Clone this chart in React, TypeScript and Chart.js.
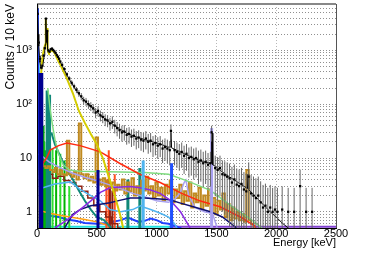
import React, { useEffect, useRef } from 'react';
import { Chart, registerables } from 'chart.js';
Chart.register(...registerables);

const FONT = "'Liberation Sans', Arial, sans-serif";
const xTickValues = [0, 500, 1000, 1500, 2000, 2500];
const yTickLabels: Record<string, string> = { '1': '1', '10': '10', '100': '10²', '1000': '10³' };

// measured spectrum (counts / 10 keV)
const dataE = [5,15,25,35,45,55,65,75,85,95,105,115,125,135,145,155,165,175,185,195,210,230,250,270,290,310,330,350,370,390,410,430,450,470,490,510,530,550,570,590,610,630,650,670,690,710,730,750,770,790,810,830,850,870,890,910,930,950,970,990,1010,1030,1050,1070,1090,1110,1120,1150,1170,1190,1210,1230,1250,1270,1290,1310,1330,1350,1370,1390,1410,1430,1450,1460,1490,1510,1530,1550,1570,1590,1610,1630,1650,1670,1690,1710,1730,1750,1770,1790,1810,1830,1850,1870,1890,1910,1930,1950,1970,1990,2010,2050,2100,2150,2200,2250,2300];
const dataV = [4800,1400,700,480,520,800,1100,3900,2300,1000,950,1050,1080,1020,960,900,820,760,700,620,540,450,360,300,250,215,185,160,140,118,112,100,92,84,70,75,62,58,52,50,44,47,40,36,33,30,31,27,28,25,26,23,24,22,21,23,20,21,18,19,17,18,15,16,15,14,32,14,13,12,13,11,12,10,10.5,9.5,10,8.5,9,8,8.5,7.5,8,30,6.5,6,6.5,5,4.8,4.5,4.2,3.5,4,3.2,3,3.3,2.6,2.4,4.5,2.2,2,1.8,2,1.5,1.2,1.3,1.0,1.2,1.0,1.1,1.0,1.1,1.0,1.0,3.0,1.0,1.0];
const eventWeight = 3.2;

// total model
const modelE = [0,5,10,15,20,25,30,40,50,60,65,70,73,75,77,80,83,85,87,90,95,100,110,120,130,140,150,160,180,200,225,250,275,300,325,350,375,400,450,500,550,600,650,700,750,800,850,900,950,1000,1050,1100,1115,1120,1125,1150,1200,1250,1300,1350,1400,1450,1455,1460,1465,1470,1500,1550,1600,1650,1700,1750,1760,1765,1770,1800,1850,1900,1950,2000,2050,2100,2150];
const modelV = [7000,4500,2000,1200,800,600,500,450,550,800,1000,1300,2000,3800,2000,1400,2000,2400,1500,1050,980,960,1000,1050,1050,1000,940,870,720,580,450,350,280,225,185,155,132,115,90,72,58,47,40,34,29,26,24,22,20.5,19,17.5,16,16,30,15.5,14.5,13,11.5,10.2,9.2,8.5,8,8,29,29,7.5,6.8,5.5,4.6,3.9,3.3,2.8,2.7,5,2.6,2.2,1.7,1.3,1.0,0.8,0.62,0.5,0.4];

// components
const yellowE = [20,30,40,50,60,70,72,75,78,82,85,88,92,100,120,140,160,180,200,250,300,350,400,450,500,550,600,650,700,720];
const yellowV = [0.5,250,550,850,1100,1300,1800,3900,1500,1400,2600,1100,950,900,1000,950,780,620,520,300,160,75,45,28,18,10,4.5,2,0.8,0.5];
const redE = [50,80,110,180,250,360,530,690,860,1030,1200,1360,1530,1700,1820,1850];
const redV = [8,10,14,17,19,17,13,8,5,3.5,2.25,1.6,1.24,0.8,0.55,0.4];
const paleGreenE = [90,110,130,150,180,220,270,350,500,700,900,1100,1250,1450,1620,1780,1880];
const paleGreenV = [200,80,40,22,12,7.5,6,5.7,5.6,5.5,5.4,5.0,3.8,2.5,1.3,0.75,0.5];
const purpleE = [150,250,360,450,530,610,700,780,860,950,1030,1110,1200,1280];
const purpleV = [0.5,0.7,1.1,1.6,2.3,2.8,2.9,2.95,2.8,2.55,2.2,1.67,1.0,0.5];
const navyE = [230,300,360,450,610,700,780,900,1000,1110,1200,1300,1450,1550,1670];
const navyV = [0.5,0.9,1.1,1.3,1.47,1.65,1.8,1.8,1.75,1.67,1.45,1.25,1.0,0.8,0.5];
const blueE = [2,8,15,25,50,100,180,250,320,400,500,600,700,760,800,850,900,950,1000,1050,1100,1150,1200,1250];
const blueV = [6000,3000,10,1.0,0.9,0.85,0.8,0.72,0.68,0.62,0.6,0.62,0.7,0.78,0.72,0.65,0.68,0.75,0.7,0.62,0.6,0.55,0.5,0.4];
const lightBlueE = [15,50,150,280,360,450,530,610,700,800,870,900,950,1000,1050,1100,1150,1180];
const lightBlueV = [2.6,2.8,3.3,3.6,2.6,2.0,1.6,1.1,1.0,1.1,1.3,1.2,1.1,1.0,0.9,0.8,0.6,0.45];
const lavenderE = [15,50,100,200,300,400,500,600,700,800,900,1000,1100,1150,1200,1230,1245,1270,1320,1400,1450,1470,1520];
const lavenderV = [12,10.5,8.5,6.5,5.2,4.4,3.8,3.2,2.7,2.2,1.9,1.6,1.5,1.7,2.3,3.5,3.9,2.0,1.2,1.0,0.95,0.9,0.4];
const tealE = [120,150,200,250,300,350,400,450,500,560,620];
const tealV = [30,18,10,6,4,2.5,1.6,1.1,0.8,0.7,0.5];
const maroonE = [110,150,200,250,300,350,400,450,500,550,600,650,700];
const maroonV = [5,4.2,4.6,3.8,3.5,3.0,2.4,1.8,1.3,1.0,0.8,0.6,0.5];
const orangeE = [20,60,100,200,300,400,500,550,600,620];
const orangeV = [1.1,1.0,0.95,0.85,0.78,0.72,0.65,0.6,0.55,0.45];
const cyanE = [3,10,20,28,35,1100,1110];
const cyanV = [1000,800,200,3,0.53,0.53,0.3];
const violetBaseE = [1100,2500];
const violetBaseV = [0.53,0.53];
const brownE = [20,40,60,80,100,120,140,160,180,200,220,240,260,280,300,320,340,360,380,400,420,440,460,480,500,520,540,560,580,600,620,640,660,680,700,720,740,760,780,800,820,840,860,880,900,920,940,960,980,1000,1020,1040,1060,1080,1100,1120,1140,1160,1180,1200,1220,1240,1260,1280,1300,1320,1340,1360,1380,1400,1420,1440,1460,1480,1500,1520,1540,1560,1580,1600,1620,1640,1660,1680,1700,1720,1740,1760,1780,1800,1820];
const brownV = [9,8.5,7,6.5,7,6,5.5,6.5,5,6,5,4.8,21,5,4.5,5.5,4,44,5,4.2,5,3.8,4.5,3.5,24,4,3.2,4.2,3,3.8,2.8,3.5,2.5,3.2,2.6,4,2.2,3.5,2.4,4.2,2,3,2.2,3.8,2.5,4.5,2.2,3,1.8,3.5,2,2.8,1.6,3.2,2.2,3.8,1.5,2.6,1.8,3.2,1.4,2.4,1.6,3.5,1.2,2.2,1.5,2.8,1.1,2,1.3,2.6,1.0,1.8,0.9,1.6,1.1,2.2,0.8,1.4,0.7,1.2,0.75,1.0,0.7,0.9,0.65,6,0.7,0.6,0.4];

// line peaks (vertical bars)
const greenPeakE = [42,55,72,92,108,160,230];
const greenPeakV = [300,40,14,18,10,14,9];
const limePeakE = [35,62,82,130,195,270];
const limePeakV = [40,20,12,15,12,3];
const tealPeakE = [85,105,760,860];
const tealPeakV = [180,150,4,6.5];
const navyPeakE = [25,40,510];
const navyPeakV = [380,380,6];
const bluePeakE = [1125];
const bluePeakV = [8];
const lightBluePeakE = [888];
const lightBluePeakV = [9];
const lavenderPeakE = [1460];
const lavenderPeakV = [36];
const maroonPeakE = [610,630];
const maroonPeakV = [3.4,2.5];
const orangeRedPeakE = [580,600,650];
const orangeRedPeakV = [4,14,5];

const BASE = 0.3;
const pts = (E: number[], V: number[]) => E.map((x, i) => ({ x, y: V[i] }));
const bars = (E: number[], V: number[]) => {
  const out: any[] = [];
  E.forEach((x, i) => { out.push({ x, y: BASE }, { x, y: V[i] }, { x, y: null }); });
  return out;
};
const errBars = () => {
  const out: any[] = [];
  dataE.forEach((x, i) => {
    const v = dataV[i];
    const err = Math.sqrt(v * eventWeight);
    out.push({ x, y: Math.max(v - err, BASE) }, { x, y: v + err }, { x, y: null });
  });
  return out;
};

const lineDs = (data: any[], color: string, width = 1.5, extra: any = {}) => ({
  data, borderColor: color, backgroundColor: color, borderWidth: width, pointRadius: 0,
  fill: false, tension: 0, spanGaps: false, ...extra,
});

const framePlugin = {
  id: 'frame',
  afterDatasetsDraw(chart: any) {
    const { ctx, chartArea: a } = chart;
    ctx.save();
    ctx.strokeStyle = '#888';
    ctx.lineWidth = 2;
    ctx.beginPath(); ctx.moveTo(a.left, a.top); ctx.lineTo(a.right, a.top); ctx.stroke();
    ctx.lineWidth = 1;
    ctx.strokeStyle = '#555';
    ctx.beginPath(); ctx.moveTo(a.right + 0.5, a.top); ctx.lineTo(a.right + 0.5, a.bottom); ctx.stroke();
    ctx.strokeStyle = '#000';
    ctx.beginPath(); ctx.moveTo(a.left + 0.5, a.top); ctx.lineTo(a.left + 0.5, a.bottom); ctx.stroke();
    ctx.restore();
  },
};

export default function App() {
  const ref = useRef<HTMLCanvasElement>(null);
  useEffect(() => {
    document.body.style.margin = '0';
    const chart = new Chart(ref.current as HTMLCanvasElement, {
      type: 'line',
      data: {
        datasets: [
          lineDs(pts(dataE, dataV), '#000', 0, { showLine: false, pointRadius: 1.6, pointStyle: 'rect', pointBackgroundColor: '#000', pointBorderWidth: 0 }),
          lineDs(errBars(), '#666', 1),
          lineDs(pts(modelE, modelV), '#000', 1),
          lineDs(bars(lavenderPeakE, lavenderPeakV), '#a8a0f0', 3),
          lineDs(bars(bluePeakE, bluePeakV), '#2050ff', 3),
          lineDs(bars(lightBluePeakE, lightBluePeakV), '#50b4f0', 3),
          lineDs(bars(navyPeakE, navyPeakV), '#000090', 3),
          lineDs(pts(yellowE, yellowV), '#d4cc00', 2),
          lineDs(pts(redE, redV), '#ff2a10', 1.5),
          lineDs(pts(paleGreenE, paleGreenV), '#80dc80', 1.5),
          lineDs(pts(purpleE, purpleV), '#8a2be2', 1.5),
          lineDs(pts(navyE, navyV), '#101070', 1.5),
          lineDs(pts(lavenderE, lavenderV), '#a8a0f0', 1.5),
          lineDs(pts(lightBlueE, lightBlueV), '#50b4f0', 1.5),
          lineDs(pts(brownE, brownV), '#c08a20', 2, { stepped: 'middle' }),
          lineDs(bars(tealPeakE, tealPeakV), '#108878', 3),
          lineDs(pts(tealE, tealV), '#108878', 2),
          lineDs(pts(maroonE, maroonV), '#902010', 1.5, { stepped: 'middle' }),
          lineDs(bars(maroonPeakE, maroonPeakV), '#902010', 2),
          lineDs(bars(orangeRedPeakE, orangeRedPeakV), '#ff5020', 2),
          lineDs(pts(orangeE, orangeV), '#ffa010', 1.5),
          lineDs(bars(greenPeakE, greenPeakV), '#00b400', 2),
          lineDs(bars(limePeakE, limePeakV), '#30e030', 2),
          lineDs(pts(blueE, blueV), '#2040ff', 2),
          lineDs(pts(cyanE, cyanV), '#20e0e0', 2),
          lineDs(pts(violetBaseE, violetBaseV), '#8040d0', 2),
        ],
      },
      options: {
        animation: false,
        responsive: false,
        events: [],
        layout: { padding: { left: 0, right: 38, top: 3, bottom: 0 } },
        plugins: { legend: { display: false }, tooltip: { enabled: false } },
        scales: {
          x: {
            type: 'linear', min: 0, max: 2500,
            afterBuildTicks: (s: any) => { s.ticks = xTickValues.map(v => ({ value: v })); },
            afterFit: (s: any) => { s.height = 25; s.paddingLeft = 0; s.paddingRight = 0; },
            ticks: { color: '#000', font: { family: FONT, size: 11 }, padding: -1, maxRotation: 0, autoSkip: false, callback: (v: any) => String(v) },
            grid: { color: '#b8b8b8', drawTicks: false },
            border: { display: true, color: '#000', dash: [1, 2] },
            title: { display: true, text: 'Energy [keV]', align: 'end', color: '#000', font: { family: FONT, size: 11 }, padding: { top: 0, bottom: 3 } },
          },
          y: {
            type: 'logarithmic', min: 0.5, max: 7300,
            afterBuildTicks: (s: any) => {
              const t: any[] = [];
              for (let e = -1; e <= 3; e++) for (let m = 1; m <= 9; m++) {
                const v = +(m * Math.pow(10, e)).toPrecision(3);
                if (v >= 0.5 && v <= 7300) t.push({ value: v });
              }
              s.ticks = t;
            },
            afterFit: (s: any) => { s.width = 37; s.paddingTop = 0; s.paddingBottom = 0; },
            ticks: {
              color: '#000', font: { family: FONT, size: 11 }, padding: 5, autoSkip: false,
              callback: (v: any) => yTickLabels[String(v)] ?? '',
            },
            grid: { color: '#909090', drawTicks: false },
            border: { display: true, color: '#000', dash: [1, 2] },
            title: { display: true, text: 'Counts / 10 keV', align: 'end', color: '#000', font: { family: FONT, size: 12 }, padding: { top: 3, bottom: 0 } },
          },
        },
      },
      plugins: [framePlugin],
    } as any);
    return () => chart.destroy();
  }, []);
  return (
    <div style={{ width: 374, height: 253 }}>
      <canvas ref={ref} width={374} height={253} />
    </div>
  );
}
